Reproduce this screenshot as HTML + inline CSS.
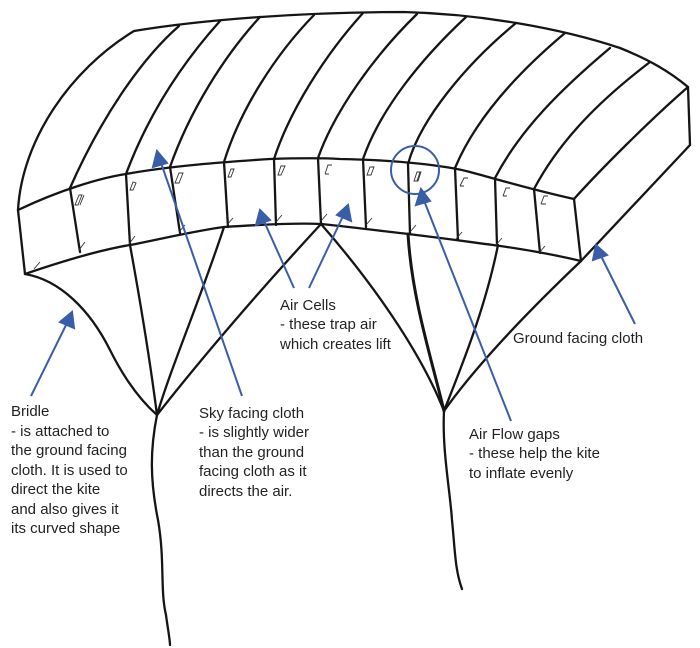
<!DOCTYPE html>
<html><head><meta charset="utf-8"><style>
html,body{margin:0;padding:0;background:#fff;}
svg{display:block}
text{font-family:"Liberation Sans",sans-serif;font-size:15px;fill:#231f20;}
</style></head><body>
<svg width="700" height="648" viewBox="0 0 700 648" xmlns="http://www.w3.org/2000/svg">
<g fill="none" stroke="#151515" stroke-width="2.3" stroke-linecap="round" stroke-linejoin="round">
<path d="M18,210 C22,140 70,70 134,31 C200,20 300,12 404,12 C480,14 560,28 620,48 C650,60 670,72 688,87 L690,145 L581,261"/>
<path d="M688,87 C650,120 600,170 574,199"/>
<path d="M18,210 C60,190 100,178 126,174 C170,166 224,162 270,159 C300,158 323,158 340,159 C400,160 448,166 470,172 C500,180 529,189 574,199"/>
<path d="M25,274 C60,262 100,250 130,245 C170,237 200,230 224,227 C270,224 300,223 321,224 C360,228 390,232 408,234 C450,239 470,242 493,245 C530,250 560,256 581,261"/>
<path d="M18,210 L25,274"/>
<path d="M574,199 L581,261"/>
<path d="M70,188 L80,252"/>
<path d="M126,174 L130,245"/>
<path d="M170,167 L180,233"/>
<path d="M224,162 L228,227"/>
<path d="M274,159 L276,225"/>
<path d="M318,158 L321,224"/>
<path d="M363,159 L366,227"/>
<path d="M408,164 L410,234"/>
<path d="M455,168 L458,240"/>
<path d="M495,178 L497,245"/>
<path d="M534,189 L540,253"/>
<path d="M70,188 C100,120 140,60 179,26"/>
<path d="M126,174 C150,110 185,60 220,21"/>
<path d="M170,167 C190,110 225,55 260,17"/>
<path d="M224,162 C240,110 275,55 314,15"/>
<path d="M274,159 C290,110 325,55 363,13"/>
<path d="M318,158 C335,110 375,55 417,14"/>
<path d="M363,159 C380,110 420,60 466,17"/>
<path d="M408,164 C420,120 465,65 516,23"/>
<path d="M455,168 C475,120 515,75 565,33"/>
<path d="M495,178 C520,130 560,90 610,48"/>
<path d="M534,189 C560,140 600,100 650,62"/>
<path d="M25,274 C60,280 90,310 110,350 C125,380 140,400 157,415"/>
<path d="M130,245 C140,300 150,360 157,415"/>
<path d="M224,227 C200,300 170,370 157,415"/>
<path d="M321,224 C260,290 200,360 157,415"/>
<path d="M157,415 C150,450 150,480 158,520 C165,560 160,590 166,615 C168,630 170,640 170,645"/>
<path d="M321,224 C370,280 420,350 444,411"/>
<path d="M408,234 C412,300 432,360 444,411" stroke-width="3"/>
<path d="M498,245 C485,310 460,370 444,411"/>
<path d="M581,261 C540,300 480,360 444,411"/>
<path d="M444,411 C442,450 450,490 452,520 C455,550 455,570 462,589"/>
</g>
<g fill="none" stroke="#333" stroke-width="0.9">
<path d="M75,205 l4,-10 l3,0 l-4,10 z M80,205 l4,-10"/>
<path d="M130,190 l3,-8 l3,1 l-3,7 z"/>
<path d="M175,183 l4,-10 l4,0 l-4,10 z M179,183 l4,-10"/>
<path d="M228,177 l3,-8 l3,0 l-3,8 z"/>
<path d="M278,175 l3,-9 l4,0 l-4,9 z"/>
<path d="M325,174 l3,-9 l4,0 M325,174 l4,0"/>
<path d="M367,175 l3,-8 l4,0 l-3,8 z"/>
<path d="M414,181 l3,-9 l4,0 l-3,9 z M417,181 l3,-9"/>
<path d="M460,186 l4,-8 l4,0 M460,186 l4,0"/>
<path d="M503,196 l3,-8 l4,0 M503,196 l4,0"/>
<path d="M541,204 l3,-8 l4,0 M541,204 l5,0"/>
<path d="M85,242 l-6,8 M135,236 l-6,8 M185,225 l-6,7 M233,218 l-6,7 M282,215 l-6,7 M327,214 l-6,7 M372,218 l-6,7 M416,225 l-6,7 M462,232 l-6,7 M502,238 l-6,7 M545,246 l-6,7 M40,262 l-6,7"/>
</g>
<g stroke="#3a5da8" stroke-width="2" fill="#3a5da8">
<line x1="31" y1="396" x2="68" y2="321"/><polygon points="72,312 60,322 74,328"/>
<line x1="242" y1="396" x2="160" y2="160"/><polygon points="157,151 153,167 167,163"/>
<line x1="294" y1="288" x2="263" y2="219"/><polygon points="260,210 256,225 270,220"/>
<line x1="309" y1="288" x2="344" y2="214"/><polygon points="348,205 337,215 351,221"/>
<line x1="635" y1="324" x2="600" y2="254"/><polygon points="596,245 593,260 607,255"/>
<line x1="511" y1="421" x2="423" y2="198"/><polygon points="421,189 416,205 430,201"/>
<ellipse cx="415" cy="170" rx="24" ry="24" fill="none"/>
</g>
<text x="11" y="416">Bridle</text>
<text x="11" y="436">- is attached to</text>
<text x="11" y="455">the ground facing</text>
<text x="11" y="475">cloth. It is used to</text>
<text x="11" y="494">direct the kite</text>
<text x="11" y="514">and also gives it</text>
<text x="11" y="533">its curved shape</text>
<text x="199" y="418">Sky facing cloth</text>
<text x="199" y="437">- is slightly wider</text>
<text x="199" y="457">than the ground</text>
<text x="199" y="476">facing cloth as it</text>
<text x="199" y="496">directs the air.</text>
<text x="280" y="310">Air Cells</text>
<text x="280" y="329">- these trap air</text>
<text x="280" y="349">which creates lift</text>
<text x="513" y="343">Ground facing cloth</text>
<text x="469" y="439">Air Flow gaps</text>
<text x="469" y="458">- these help the kite</text>
<text x="469" y="478">to inflate evenly</text>
</svg>
</body></html>
